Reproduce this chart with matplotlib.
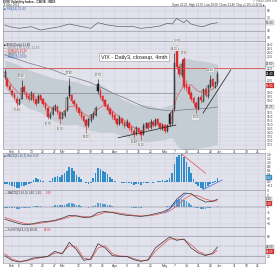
import matplotlib
matplotlib.use('Agg')
import matplotlib.pyplot as plt
import numpy as np
import pandas as pd

plt.rcParams['font.family'] = ['Liberation Sans', 'DejaVu Sans']

W, H = 280, 269

# ---- data ----
dates = pd.bdate_range('2012-01-27', periods=110)

opens = [21.0, 20.8, 19.9, 19.3, 18.8, 18.3, 17.6, 18.3, 19.8, 19.0,
         18.6, 18.3, 18.9, 18.2, 17.8, 18.7, 18.2, 17.7, 17.1, 16.0,
         16.4, 17.0, 17.3, 16.6, 15.9, 16.2, 16.9, 19.9, 18.7, 18.0,
         17.6, 17.1, 16.6, 16.1, 15.6, 15.0, 15.6, 16.0, 16.3, 20.1,
         19.3, 18.6, 18.1, 17.5, 17.0, 16.6, 16.2, 15.8, 15.1, 15.8,
         15.3, 14.9, 15.3, 14.7, 14.3, 14.0, 14.6, 14.2, 13.9, 14.8,
         15.2, 14.7, 15.4, 15.0, 15.7, 15.2, 14.6, 15.0, 14.3, 16.4,
         15.2, 17.0, 24.6, 22.2, 21.3, 23.2, 20.0, 19.8, 19.0, 18.4,
         17.8, 17.0, 18.5, 18.0, 19.5, 18.6, 19.8, 20.7, 19.8, 20.2]
closes = [21.6, 19.9, 19.4, 18.7, 18.4, 17.7, 18.1, 19.6, 19.1, 18.5,
          18.2, 19.0, 18.1, 17.6, 18.6, 18.1, 17.6, 17.1, 16.0, 16.2,
          17.1, 17.4, 16.6, 15.7, 16.4, 16.7, 18.4, 18.6, 18.0, 17.6,
          17.0, 16.5, 16.0, 15.5, 14.9, 15.7, 16.2, 16.4, 17.1, 19.2,
          18.5, 18.0, 17.4, 16.9, 16.4, 16.0, 15.6, 15.1, 15.9, 15.2,
          14.9, 15.4, 14.6, 14.2, 13.9, 14.6, 14.1, 13.7, 14.9, 15.1,
          14.6, 15.4, 15.0, 15.6, 15.1, 14.6, 14.9, 14.2, 14.9, 15.1,
          16.6, 22.8, 22.3, 21.4, 22.6, 19.7, 19.6, 18.9, 18.2, 17.7,
          17.1, 18.4, 18.1, 19.4, 18.7, 19.9, 20.6, 19.9, 20.3, 21.4]
highs = [22.0, 21.0, 20.2, 19.5, 19.1, 18.6, 18.4, 20.6, 20.0, 19.3,
         18.9, 19.3, 19.1, 18.3, 18.9, 18.8, 18.4, 17.9, 17.2, 16.6,
         17.4, 17.6, 17.5, 16.7, 16.6, 16.9, 18.6, 20.9, 18.9, 18.2,
         17.8, 17.3, 16.8, 16.3, 15.8, 15.9, 16.4, 16.7, 17.4, 20.7,
         19.6, 18.8, 18.3, 17.7, 17.2, 16.8, 16.4, 16.0, 16.2, 16.0,
         15.5, 15.7, 15.5, 14.9, 14.5, 14.9, 14.8, 14.4, 15.2, 15.4,
         15.4, 15.7, 15.6, 15.9, 15.9, 15.3, 15.2, 15.1, 15.1, 16.6,
         17.0, 24.0, 25.0, 22.6, 23.3, 23.5, 20.6, 20.0, 19.2, 18.6,
         18.0, 18.6, 18.8, 19.6, 19.7, 20.1, 21.3, 20.9, 20.5, 21.7]
lows = [20.8, 19.7, 19.2, 18.5, 18.1, 17.4, 17.5, 18.2, 18.9, 18.3,
        18.0, 18.1, 17.9, 17.4, 17.7, 17.9, 17.4, 16.9, 15.7, 15.8,
        16.3, 16.8, 16.4, 15.1, 15.7, 16.0, 16.8, 18.4, 17.8, 17.4,
        16.8, 16.3, 15.8, 15.3, 14.0, 14.8, 15.4, 15.8, 16.1, 18.9,
        18.3, 17.8, 17.2, 16.7, 16.2, 15.8, 15.4, 14.9, 15.0, 15.0,
        14.6, 14.7, 14.4, 14.0, 13.4, 13.8, 13.9, 13.1, 13.8, 14.6,
        14.4, 14.5, 14.8, 14.9, 14.9, 14.4, 14.4, 14.0, 14.1, 14.9,
        15.0, 16.8, 22.0, 21.0, 21.0, 19.5, 19.2, 18.7, 18.0, 17.4,
        16.5, 16.9, 17.8, 17.9, 18.5, 18.4, 19.6, 19.7, 19.6, 20.0]

bb_idx = [0, 5, 10, 15, 20, 25, 30, 35, 40, 45, 50, 55, 60, 65, 70, 71, 72, 73, 75, 80, 85, 89]
bb_upper = [23.1, 22.6, 21.9, 21.4, 20.9, 20.6, 20.4, 19.9, 20.1, 19.1, 18.1, 17.5, 17.5, 17.1,
            17.6, 20.5, 22.0, 22.8, 23.4, 23.1, 22.9, 22.6]
bb_lower = [19.6, 18.1, 17.1, 16.6, 15.6, 15.0, 15.1, 14.4, 14.1, 14.1, 13.6, 12.9, 12.9, 13.1,
            13.4, 13.0, 12.5, 12.2, 11.9, 12.0, 12.3, 12.6]

ma50_idx = [0, 10, 20, 27, 35, 40, 45, 50, 55, 60, 65, 70, 75, 80, 85, 89]
ma50 = [23.75, 22.75, 21.9, 21.1, 20.4, 19.75, 19.0, 18.4, 17.7, 17.1, 16.9, 16.75, 16.9, 17.0, 17.1, 17.25]

idx3 = list(range(0, 90, 3)) + [89]
ema = [21.2, 19.9, 18.9, 18.9, 18.6, 18.3, 17.4, 16.9, 16.5, 17.3, 17.4, 16.4, 15.9, 17.0, 17.6, 16.8,
       16.0, 15.4, 14.7, 14.3, 14.6, 15.0, 15.0, 14.9, 18.5, 20.0, 20.0, 19.2, 19.0, 19.5, 19.9]

flat_line = 19.0
red_level = 22.1
trend1 = ([47.4, 71.6], [13.4, 15.0])
trend2 = ([83.0, 94.6], [16.5, 21.9])

rsi_idx = [0, 2, 6, 11, 15, 19, 23, 27, 31, 36, 39, 43, 48, 54, 57, 61, 65, 68, 70, 72, 73, 75, 76, 78,
           81, 83, 86, 89]
rsi = [48, 43, 38, 43, 33, 38, 43, 51, 45, 38, 55, 48, 43, 43, 38, 41, 45, 53, 51, 68, 63, 55, 63, 51,
       45, 43, 51, 55]

hist = [-0.10, -0.12, -0.18, -0.22, -0.26, -0.30, -0.30, -0.22, -0.20, -0.18,
        -0.12, -0.06, 0.10, 0.18, 0.16, 0.10, 0.04, 0.02, -0.02, 0.05,
        0.18, 0.28, 0.32, 0.28, 0.35, 0.45, 0.58, 0.78, 0.70, 0.55,
        0.38, 0.28, 0.15, 0.02, -0.08, -0.10, -0.05, 0.20, 0.45, 0.70,
        0.65, 0.55, 0.52, 0.40, 0.28, 0.15, 0.05, -0.03, 0.02, -0.05,
        -0.08, -0.04, -0.08, -0.12, -0.15, -0.10, -0.12, -0.15, -0.08, -0.05,
        -0.08, -0.02, -0.04, 0.02, 0.05, 0.03, 0.08, 0.05, 0.10, 0.20,
        0.45, 0.95, 1.30, 1.40, 1.45, 1.30, 1.05, 0.75, 0.45, 0.15,
        -0.10, -0.20, -0.30, -0.38, -0.30, -0.22, -0.12, -0.05, 0.05, 0.22]

macd = [-2.2, -2.6, -3.0, -3.2, -3.0, -2.7, -2.6, -2.4, -2.0, -1.5, -1.6, -1.9, -1.8, -1.0, -0.8, -1.0,
        -1.3, -1.5, -1.6, -1.7, -1.5, -1.2, -0.9, -0.3, 1.4, 2.5, 2.4, 1.5, 0.9, 1.0, 1.4]
signal = [-1.9, -2.3, -2.7, -3.0, -3.1, -2.9, -2.7, -2.5, -2.2, -1.8, -1.6, -1.7, -1.8, -1.4, -1.0, -0.9,
          -1.1, -1.3, -1.5, -1.6, -1.6, -1.4, -1.1, -0.7, 0.2, 1.4, 2.2, 2.0, 1.4, 1.1, 1.1]

sto_k = [22, 8, 3, 8, 15, 17, 20, 35, 27, 62, 40, 8, 12, 58, 45, 22, 20, 20, 10, 5, 10, 45, 62, 78, 68,
         72, 45, 30, 22, 30, 48]
sto_d = [28, 12, 5, 6, 12, 16, 19, 30, 30, 52, 48, 15, 10, 45, 52, 28, 21, 20, 13, 7, 8, 35, 55, 72, 72,
         70, 55, 35, 25, 27, 38]

hist_red_line = ([74, 84], [1.45, 0.45])
hist_blue_line = ([83, 91], [-0.4, 0.1])
macd_blue_line = ([67, 76], [-1.1, 2.5])

high_marks = [7, 27, 39, 71, 72, 75, 86]
low_marks = [5, 18, 23, 34, 54, 57, 80]

# ---- style ----
BG = '#e2e2ec'
GRID = '#cbcbda'
BBCOL = '#c4ccd4'
RED = '#dd2a2a'
BLACK = '#1a1a1a'
BLUE = '#2f8dcb'
XMIN, XMAX = -0.75, 108.9

fig = plt.figure(figsize=(W / 100, H / 100), dpi=100)

# x gridlines: month starts, then mondays not too close to one
month_pos = [i for i in range(1, len(dates)) if dates[i].month != dates[i - 1].month]
grid = {i: dates[i].strftime('%b') for i in month_pos}
for i in range(1, len(dates)):
    if dates[i].weekday() == 0 and all(abs(i - m) > 2 for m in month_pos):
        grid[i] = str(dates[i].day)
grid_pos = sorted(grid)
grid_lab = [grid[i] for i in grid_pos]


def panel(y0, y1):
    ax = fig.add_axes([3 / W, 1 - y1 / H, 262 / W, (y1 - y0) / H])
    ax.set_facecolor(BG)
    ax.set_xlim(XMIN, XMAX)
    ax.yaxis.tick_right()
    ax.tick_params(axis='y', labelsize=2.3, length=0, pad=1, labelcolor='#333333')
    ax.tick_params(axis='x', length=0, labelbottom=False, labelsize=2.3, pad=0.6,
                   labelcolor='#333333')
    for s in ax.spines.values():
        s.set_linewidth(0.4)
        s.set_color('#8c8c9c')
    ax.set_xticks(grid_pos)
    ax.set_xticklabels(grid_lab)
    ax.grid(True, color=GRID, lw=0.3)
    ax.set_axisbelow(True)
    return ax


def free_ticks(vals, tags, gap):
    # keep the grid ticks that do not sit under a value tag
    return [v for v in vals if all(abs(v - t) > gap for t in tags)]


def tag(ax, val, text, fc, tc='white'):
    ax.text(1.004, val, text, transform=ax.get_yaxis_transform(), fontsize=2.2, color=tc,
            va='center', ha='left', bbox=dict(boxstyle='square,pad=0.15', fc=fc, ec='#777777', lw=0.2),
            clip_on=False)


# ---- RSI panel ----
ax_a = panel(6, 41)
ax_a.set_ylim(0, 105)
ax_a.set_yticks(free_ticks([10, 30, 50, 70, 90], [rsi[-1]], 8))
ax_a.axhline(70, color='#8a8a9a', lw=0.4)
ax_a.axhline(30, color='#8a8a9a', lw=0.4)
ax_a.axhline(50, color='#8a8a9a', lw=0.35, ls=(0, (2, 1.5)))
ax_a.plot(rsi_idx, rsi, color='#555555', lw=0.45)
ax_a.text(0.005, 0.97, '\u25a0 RSI(14) 55.43', transform=ax_a.transAxes, fontsize=2.2,
          color='#3366aa', va='top')
tag(ax_a, rsi[-1], f'{rsi[-1]:.2f}', '#eeeeee', '#333333')

# ---- price panel ----
ax_b = panel(41, 149)
ax_b.set_ylim(12.0, 25.5)
b_tags = [bb_upper[-1], closes[-1], ema[-1], ma50[-1]]
ax_b.set_yticks(free_ticks(list(np.arange(12.5, 25.01, 0.5)), b_tags, 0.4))
ax_b.tick_params(axis='x', labelbottom=True)
ax_b.fill_between(bb_idx, bb_lower, bb_upper, color=BBCOL, lw=0)
ax_b.axhline(red_level, color='#e06060', lw=0.7)
ax_b.plot([XMIN, 72], [flat_line, flat_line], color='#8a8a9a', lw=0.5)
ax_b.plot(ma50_idx, ma50, color='#7a7a88', lw=0.5)
ax_b.plot(idx3, ema, color='#e05050', lw=0.45)
ax_b.plot(*trend1, color=BLACK, lw=0.5)
ax_b.plot(*trend2, color=BLACK, lw=0.5)

prev = [closes[0]] + closes[:-1]
for i in range(len(closes)):
    col = RED if closes[i] < prev[i] else BLACK
    filled = closes[i] < opens[i]
    ax_b.vlines(i, lows[i], highs[i], color=col, lw=0.45)
    lo, hi = min(opens[i], closes[i]), max(opens[i], closes[i])
    ax_b.bar(i, max(hi - lo, 0.06), bottom=lo, width=0.62, color=col if filled else BG,
             edgecolor=col, linewidth=0.35)

for i in high_marks:
    ax_b.text(i, highs[i] + 0.3, f'{highs[i]:.2f}', fontsize=1.9, color='#444444', ha='center',
              va='bottom', bbox=dict(boxstyle='square,pad=0.1', fc='#eeeeee', ec='#aaaaaa', lw=0.15))
for i in low_marks:
    ax_b.text(i, lows[i] - 0.3, f'{lows[i]:.2f}', fontsize=1.9, color='#444444', ha='center',
              va='top', bbox=dict(boxstyle='square,pad=0.1', fc='#eeeeee', ec='#aaaaaa', lw=0.15))

legend_b = [('\u25a0 $VIX (Daily) 21.40', BLACK),
            ('\u2014 BB(20,2.0) 22.60 - 12.60', '#777777'),
            ('\u2014 EMA(10) 19.90', '#dd3333'),
            ('\u2014 MA(50) 17.25', '#555555'),
            ('\u2014 MA(200) 19.00', '#3366aa')]
for k, (t, c) in enumerate(legend_b):
    ax_b.text(0.005, 0.985 - k * 0.028, t, transform=ax_b.transAxes, fontsize=2.1, color=c, va='top')

tag(ax_b, bb_upper[-1], f'{bb_upper[-1]:.2f}', '#eeeeee', '#333333')
tag(ax_b, closes[-1], f'{closes[-1]:.2f}', BLACK)
tag(ax_b, ema[-1], f'{ema[-1]:.2f}', RED)
tag(ax_b, ma50[-1], f'{ma50[-1]:.2f}', '#eeeeee', '#333333')

fig.text(134 / W, 1 - 57 / H, 'VIX - Daily3, closeup, 4mth', fontsize=4.0, color='#222222',
         ha='center', va='center',
         bbox=dict(boxstyle='square,pad=0.3', fc='white', ec='#999999', lw=0.4))

# ---- MACD histogram panel ----
ax_c = panel(153, 190)
ax_c.set_ylim(-0.42, 1.5)
ax_c.set_yticks(free_ticks([round(v, 1) for v in np.arange(-0.2, 1.41, 0.2)], [hist[-1]], 0.1))
ax_c.bar(range(len(hist)), hist, width=0.7, color=BLUE, lw=0)
ax_c.plot(*hist_red_line, color='#e05050', lw=0.5)
ax_c.plot(*hist_blue_line, color='#5566dd', lw=0.5)
ax_c.text(0.005, 0.97, '\u25a0 MACD(12,26,9) Hist 0.22', transform=ax_c.transAxes, fontsize=2.1,
          color='#335577', va='top')
tag(ax_c, hist[-1], f'{hist[-1]:.2f}', BLUE)

# ---- MACD lines panel ----
ax_d = panel(190, 227)
ax_d.set_ylim(-3.6, 3.06)
d_tags = [macd[-1], signal[-1] - 0.5]
ax_d.set_yticks(free_ticks([-3, -2, -1, 0, 1, 2, 3], d_tags, 0.55))
ax_d.axhline(0, color='#8a8a9a', lw=0.35)
ax_d.bar(range(len(hist)), hist, width=0.7, color=BLUE, lw=0, alpha=0.8)
ax_d.plot(idx3, signal, color='#e05050', lw=0.5)
ax_d.plot(idx3, macd, color='#333333', lw=0.5)
ax_d.plot(*macd_blue_line, color='#5566dd', lw=0.5)
ax_d.text(0.005, 0.97, '\u2014 MACD(12,26,9) 1.40, 1.10,', transform=ax_d.transAxes, fontsize=2.1,
          color='#333333', va='top')
ax_d.text(0.165, 0.97, '0.30', transform=ax_d.transAxes, fontsize=2.1, color='#dd3333', va='top')
tag(ax_d, d_tags[0], f'{macd[-1]:.2f}', '#eeeeee', '#333333')
tag(ax_d, d_tags[1], f'{signal[-1]:.2f}', RED)

# ---- stochastic panel ----
ax_e = panel(227, 263)
ax_e.set_ylim(0, 108)
ax_e.set_yticks([20, 80])
ax_e.tick_params(axis='x', labelbottom=True)
ax_e.axhline(80, color='#8a8a9a', lw=0.4)
ax_e.axhline(20, color='#8a8a9a', lw=0.4)
ax_e.axhline(50, color='#8a8a9a', lw=0.35, ls=(0, (2, 1.5)))
ax_e.plot(idx3, sto_d, color='#e05050', lw=0.5)
ax_e.plot(idx3, sto_k, color='#333333', lw=0.5)
ax_e.text(0.005, 0.97, '\u2014 Full STO(14,3,3) 48.00,', transform=ax_e.transAxes, fontsize=2.1,
          color='#333333', va='top')
ax_e.text(0.155, 0.97, '38.00', transform=ax_e.transAxes, fontsize=2.1, color='#dd3333', va='top')
tag(ax_e, sto_k[-1], f'{sto_k[-1]:.2f}', '#eeeeee', '#333333')
tag(ax_e, sto_d[-1] - 4, f'{sto_d[-1]:.2f}', RED)

# ---- header ----
fig.text(3 / W, 1 - 2 / H, '$VIX Volatility Index - CBOE  INDX', fontsize=2.3, color='#222222',
         va='center', fontweight='bold')
fig.text(3 / W, 1 - 4.8 / H, '31-May-2012', fontsize=2.1, color='#444444', va='center')
fig.text(277 / W, 1 - 1.5 / H, '\u00a9 StockCharts.com', fontsize=2.0, color='#666666',
         va='center', ha='right')
fig.text(265 / W, 1 - 4.6 / H,
         'Open 20.20  High 21.70  Low 20.00  Close 21.40  Chg +1.10 (+5.42%)\u25b2',
         fontsize=2.1, color='#333333', va='center', ha='right')

fig.savefig('out.png', dpi=100, facecolor='white')
